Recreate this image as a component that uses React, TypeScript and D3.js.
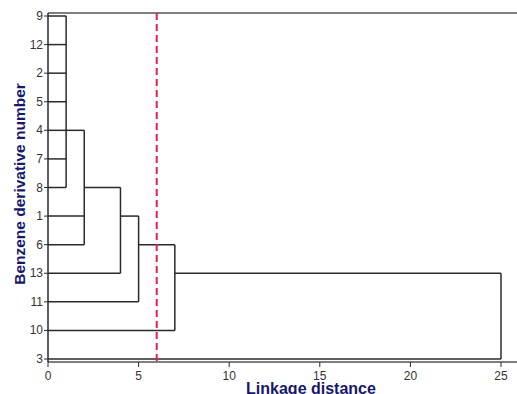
import * as d3 from "d3";

// leaf order, top to bottom
const leaves = ["9", "12", "2", "5", "4", "7", "8", "1", "6", "13", "11", "10", "3"];

// agglomeration steps: children ("cN" = result of step N), linkage distance, row the result leaves from
const stepChildren = [
  ["9", "12", "2", "5", "4", "7", "8"],
  ["c0", "1", "6"],
  ["c1", "13"],
  ["c2", "11"],
  ["c3", "10"],
  ["c4", "3"],
];
const stepDistance = [1, 2, 4, 5, 7, 25];
const stepOutRow = ["4", "8", "1", "6", "13", "3"];

const xTicks = [0, 5, 10, 15, 20, 25];
const cutDistance = 6;

const W = 517;
const H = 394;
const left = 48;
const top = 13;
const axisY = 362;

export default function App() {
  const x = d3.scaleLinear().domain([0, 25]).range([left, 501]);
  const y = d3.scalePoint<string>().domain(leaves).range([16, 359]);

  const segs: { x1: number; y1: number; x2: number; y2: number }[] = [];
  stepChildren.forEach((kids, i) => {
    const d = stepDistance[i];
    const rows: number[] = [];
    kids.forEach((k) => {
      let row: string;
      let from: number;
      if (k.startsWith("c")) {
        const j = +k.slice(1);
        row = stepOutRow[j];
        from = stepDistance[j];
      } else {
        row = k;
        from = 0;
      }
      const yy = y(row) as number;
      rows.push(yy);
      segs.push({ x1: x(from), y1: yy, x2: x(d), y2: yy });
    });
    segs.push({ x1: x(d), y1: d3.min(rows)!, x2: x(d), y2: d3.max(rows)! });
  });

  const navy = "#17176c";
  const ink = "#2a2a2a";

  return (
    <svg
      width={W}
      height={H}
      style={{ position: "absolute", left: 0, top: 0, background: "#fff" }}
      fontFamily="Arial, 'Liberation Sans', sans-serif"
    >
      {/* frame */}
      <line x1={left} y1={top} x2={W} y2={top} stroke="#555" strokeWidth={1.5} />
      <line x1={left} y1={axisY} x2={W} y2={axisY} stroke="#555" strokeWidth={1.5} />
      <line x1={left} y1={top} x2={left} y2={axisY} stroke={ink} strokeWidth={1.5} />

      {/* y ticks & labels */}
      {leaves.map((l) => (
        <g key={l}>
          <line x1={left - 4} x2={left} y1={y(l)} y2={y(l)} stroke={ink} strokeWidth={1} />
          <text x={43} y={(y(l) as number) + 4} textAnchor="end" fontSize={12} fill="#333">
            {l}
          </text>
        </g>
      ))}

      {/* x ticks & labels */}
      {xTicks.map((t) => (
        <g key={t}>
          <line x1={x(t)} x2={x(t)} y1={axisY} y2={axisY + 5} stroke={ink} strokeWidth={1} />
          <text x={x(t)} y={380} textAnchor="middle" fontSize={12} fill="#333">
            {t}
          </text>
        </g>
      ))}

      {/* dendrogram */}
      {segs.map((s, i) => (
        <line key={i} {...s} stroke={ink} strokeWidth={1.5} />
      ))}

      {/* cut line */}
      <line
        x1={x(cutDistance)}
        x2={x(cutDistance)}
        y1={top}
        y2={axisY}
        stroke="#e3214b"
        strokeWidth={2}
        strokeDasharray="7,4"
      />

      <text x={311} y={394} textAnchor="middle" fontSize={16} fontWeight="bold" fill={navy}>
        Linkage distance
      </text>
      <text
        transform="translate(25,184) rotate(-90)"
        textAnchor="middle"
        fontSize={15.5}
        fontWeight="bold"
        fill={navy}
      >
        Benzene derivative number
      </text>
    </svg>
  );
}
